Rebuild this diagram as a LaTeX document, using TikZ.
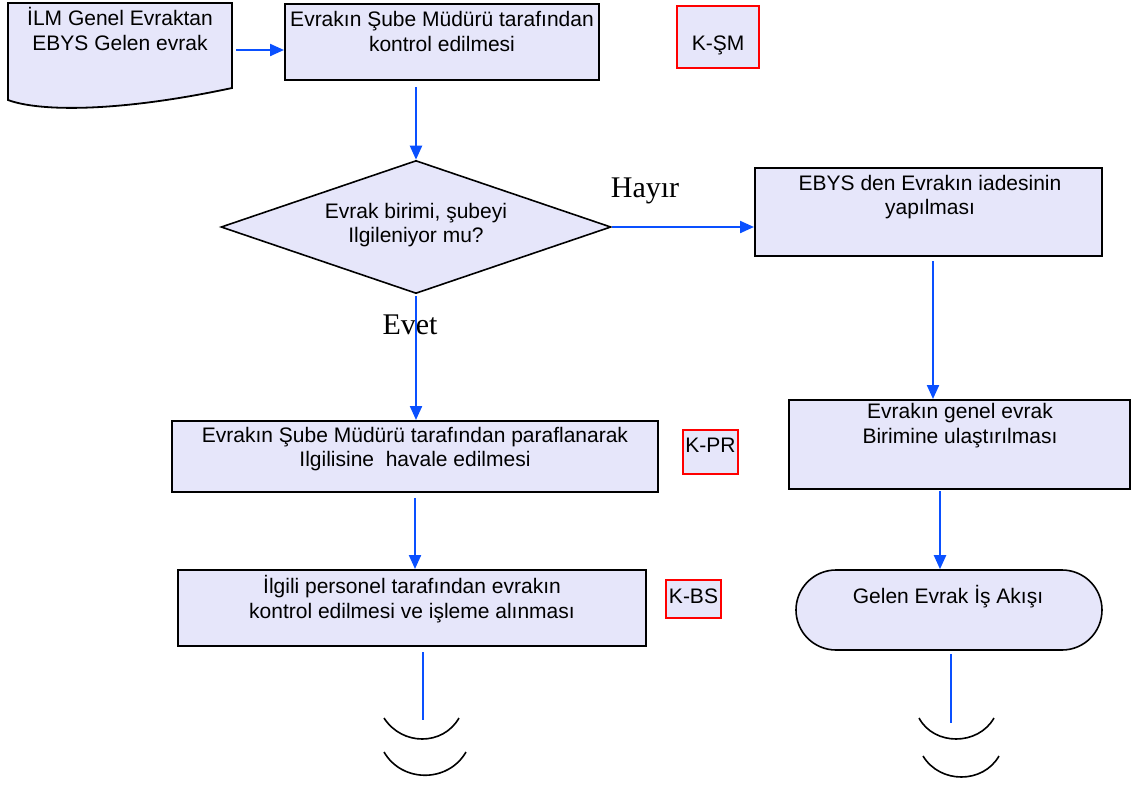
\documentclass[tikz,border=0pt]{standalone}
\usepackage{fontspec}
\setmainfont{Liberation Sans}
\newfontfamily\seriffont{Liberation Serif}
\usetikzlibrary{shapes.geometric,arrows.meta}
\definecolor{boxfill}{RGB}{230,230,250}
\definecolor{arrblue}{RGB}{10,80,255}
\definecolor{kred}{RGB}{255,0,0}
\tikzset{
  procbox/.style={draw=black,line width=2pt,fill=boxfill,inner sep=0pt},
  kbox/.style={draw=kred,line width=2pt,fill=boxfill,inner sep=0pt},
  txt/.style={font=\fontsize{21}{24.5}\selectfont,align=center,inner sep=0pt,text=black},
  yesno/.style={font=\seriffont\fontsize{30}{34}\selectfont,inner sep=0pt},
  arr/.style={draw=arrblue,line width=2.2pt,-{Triangle[length=14pt,width=12pt]}},
  plainline/.style={draw=arrblue,line width=2.2pt},
  arcline/.style={draw=black,line width=1.6pt},
}
\begin{document}
\begin{tikzpicture}[x=1pt,y=-1pt]
\useasboundingbox (0,0) rectangle (1136,785);
% document shape
\filldraw[fill=boxfill,draw=black,line width=1.8pt] (8,3) -- (232,3) -- (232,88) .. controls (120,112) and (40,112) .. (8,100) -- cycle;
\coordinate (docr) at (236,50);
\node[txt] (doct) at (120,29) {İLM Genel Evraktan\\EBYS Gelen evrak};
% boxes
\node[procbox,minimum width=314pt,minimum height=76pt] (b1) at (442,42) {};
\node[txt] (b1t) at (442,31.5) {Evrakın Şube Müdürü tarafından\\kontrol edilmesi};
\node[kbox,minimum width=82pt,minimum height=62pt] (ksm) at (718,37) {};
\node[txt] (ksmt) at (718,45) {K-ŞM};
\node[draw=black,line width=1.6pt,fill=boxfill,shape=diamond,minimum width=390pt,minimum height=133pt,aspect=2.93,inner sep=0pt] (d) at (416,227) {};
\node[txt] (dt) at (416,225) {Evrak birimi, şubeyi\\Ilgileniyor mu?};
\node[procbox,minimum width=347pt,minimum height=88pt] (b3) at (928.5,212) {};
\node[txt] (b3t) at (930,197) {EBYS den Evrakın iadesinin\\yapılması};
\node[procbox,minimum width=341pt,minimum height=89pt] (b5) at (959.5,444.5) {};
\node[txt] (b5t) at (960,425.5) {Evrakın genel evrak\\Birimine ulaştırılması};
\node[procbox,line width=1.6pt,rounded corners=40pt,minimum width=306pt,minimum height=80pt] (t) at (949,610) {};
\node[txt] (tt) at (948,597) {Gelen Evrak İş Akışı};
\node[procbox,minimum width=486pt,minimum height=71pt] (b4) at (415,456.5) {};
\node[txt] (b4t) at (415,449) {Evrakın Şube Müdürü tarafından paraflanarak\\Ilgilisine\ \ havale edilmesi};
\node[kbox,minimum width=55pt,minimum height=44pt] (kpr) at (710.5,452) {};
\node[txt] (kprt) at (710.5,445) {K-PR};
\node[procbox,minimum width=468pt,minimum height=76pt] (b6) at (412,608) {};
\node[txt] (b6t) at (412,599) {İlgili personel tarafından evrakın\\kontrol edilmesi ve işleme alınması};
\node[kbox,minimum width=55pt,minimum height=38pt] (kbs) at (693.5,599) {};
\node[txt] (kbst) at (693.5,596) {K-BS};
% labels
\node[yesno] (hayir) at (645,191) {Hayır};
\node[yesno] (evet) at (410,325) {Evet};
% connectors
\draw[arr] (docr) -- (docr -| b1.west);
\draw[arr] ([yshift=-6pt]b1.south -| d.north) -- (d.north);
\draw[arr] (d.east) -- (d.east -| b3.west);
\draw[arr] ([yshift=-2pt]d.south) -- (d.south |- b4.north);
\draw[arr] ([xshift=4.5pt,yshift=-4pt]b3.south) -- ([xshift=4.5pt]b3.south |- b5.north);
\draw[arr] ([xshift=-19.5pt,yshift=-1pt]b5.south) -- ([xshift=-19.5pt]b5.south |- t.north);
\draw[arr] ([yshift=-5pt]b4.south) -- (b4.south |- b6.north);
\coordinate (e1) at (423,720);
\coordinate (e2) at (951,723);
\draw[plainline] ([yshift=-5pt]b6.south -| e1) -- (e1);
\draw[plainline] ([yshift=-3pt]t.south -| e2) -- (e2);
% continuation arcs
\draw[arcline] (384,718) .. controls (402,746) and (443,746) .. (459,718);
\draw[arcline] (384,752) .. controls (402,783) and (448,783) .. (466,752);
\draw[arcline] (919,718) .. controls (934,746) and (978,746) .. (994,718);
\draw[arcline] (923,756) .. controls (940,784) and (983,784) .. (999,756);
\end{tikzpicture}
\end{document}
